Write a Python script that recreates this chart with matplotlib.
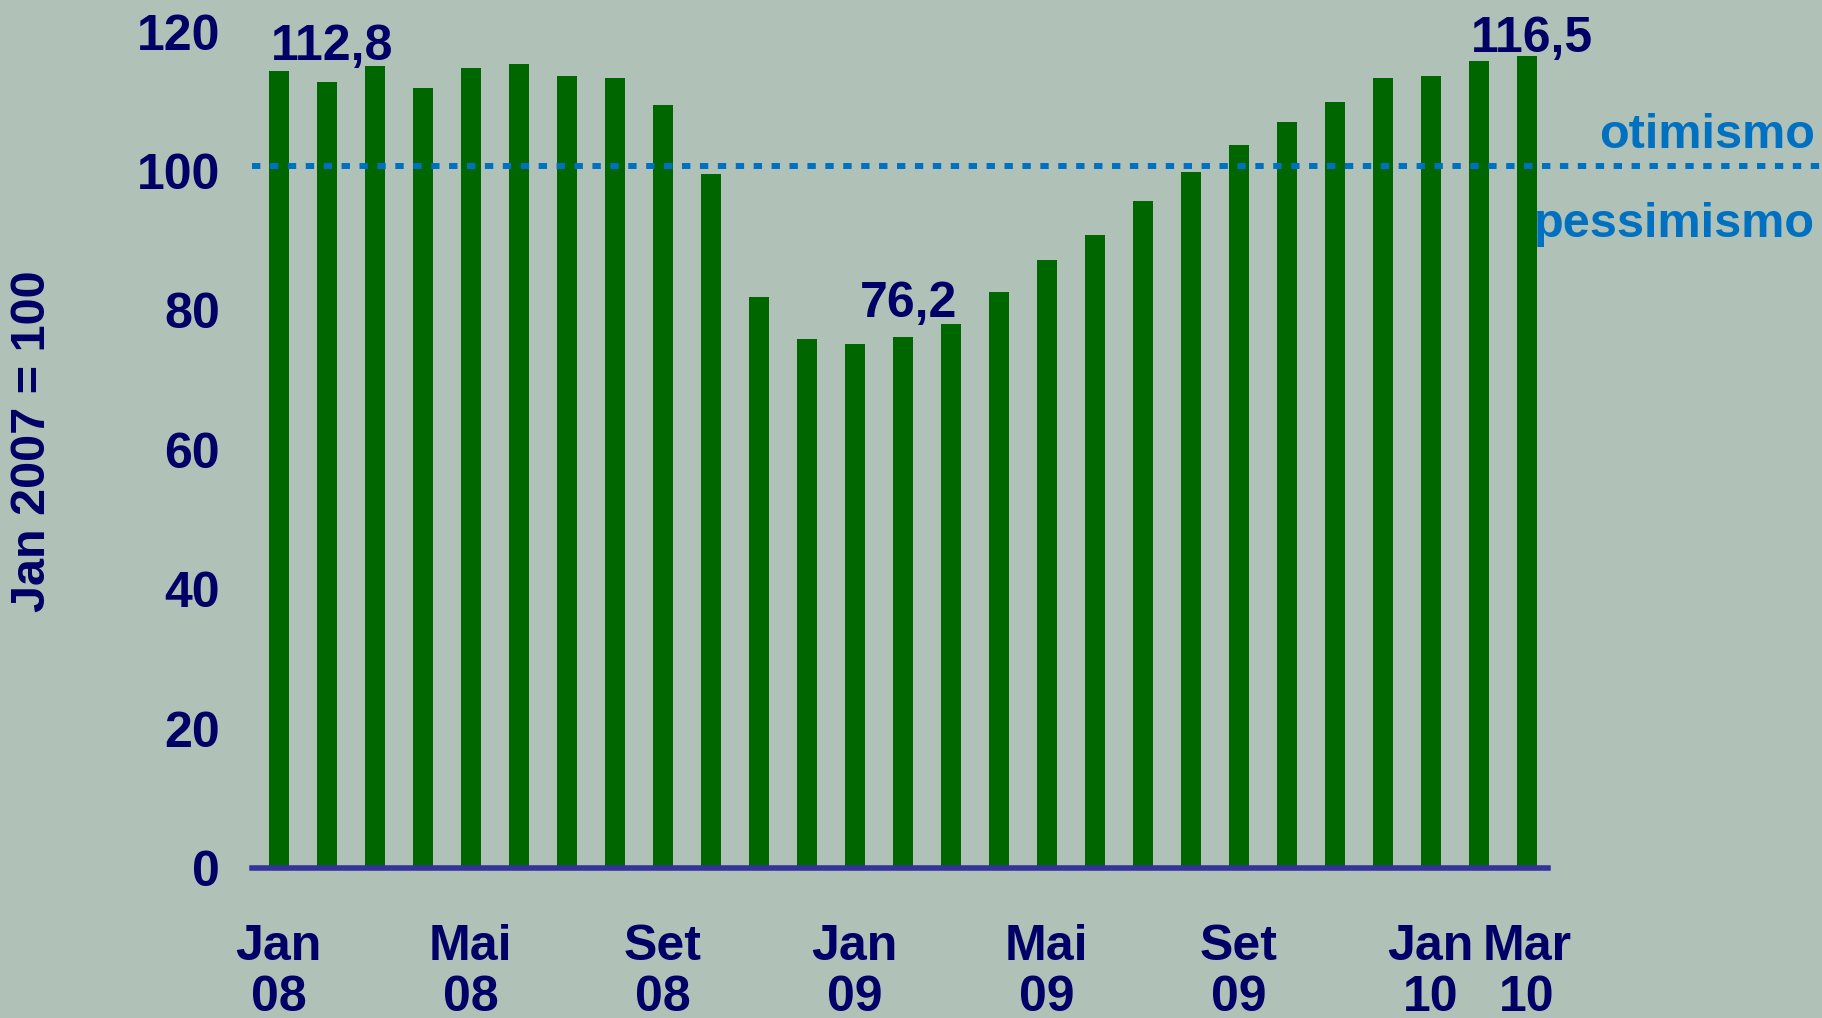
import numpy as np
import matplotlib
matplotlib.use('Agg')
import matplotlib.pyplot as plt

# Índice de confiança (Jan 2007 = 100), Jan 08 .. Mar 10
meses = ['Jan 08', 'Fev 08', 'Mar 08', 'Abr 08', 'Mai 08', 'Jun 08', 'Jul 08', 'Ago 08',
         'Set 08', 'Out 08', 'Nov 08', 'Dez 08', 'Jan 09', 'Fev 09', 'Mar 09', 'Abr 09',
         'Mai 09', 'Jun 09', 'Jul 09', 'Ago 09', 'Set 09', 'Out 09', 'Nov 09', 'Dez 09',
         'Jan 10', 'Fev 10', 'Mar 10']
valores = [114.4, 112.8, 115.1, 111.9, 114.8, 115.4, 113.7, 113.3, 109.5, 99.6,
           81.9, 75.9, 75.2, 76.2, 78.0, 82.6, 87.2, 90.8, 95.7, 99.8,
           103.8, 107.0, 109.9, 113.3, 113.7, 115.8, 116.5]

# tick labels on the x axis
xtick_pos = [0, 4, 8, 12, 16, 20, 24, 26]
xtick_lab = ['Jan\n08', 'Mai\n08', 'Set\n08', 'Jan\n09', 'Mai\n09', 'Set\n09', 'Jan\n10', 'Mar\n10']

# highlighted values (index, text)
destaques = [(1, '112,8'), (13, '76,2'), (26, '116,5')]
# otimismo / pessimismo divide, as drawn in the original
neutro = 100.7

plt.rcParams['font.family'] = ['Liberation Sans', 'DejaVu Sans']
plt.rcParams['font.weight'] = 'bold'

navy = '#000066'
green = '#006600'
blue = '#0070c0'
bg = '#b0c2b8'

fig = plt.figure(figsize=(18.22, 10.18), dpi=100, facecolor=bg)
ax = fig.add_axes([0.1383, 0.1473, 0.7113, 0.8216])
ax.set_facecolor('none')

x = np.arange(len(valores))
ax.bar(x, valores, width=0.42, color=green, zorder=2)

ax.set_xlim(-0.56, 26.44)
ax.set_ylim(0, 120)

ax.set_yticks(np.arange(0, 121, 20))
ax.set_xticks(xtick_pos)
ax.set_xticklabels(xtick_lab, linespacing=1.15)
ax.tick_params(axis='y', length=0, pad=23, labelsize=36, labelcolor=navy)
ax.tick_params(axis='x', length=0, pad=40, labelsize=36, labelcolor=navy)
for lab in ax.get_xticklabels() + ax.get_yticklabels():
    lab.set_fontweight('bold')

for s in ('top', 'right', 'left'):
    ax.spines[s].set_visible(False)
ax.spines['bottom'].set_color('#333399')
ax.spines['bottom'].set_linewidth(4.0)
ax.spines['bottom'].set_zorder(3)

# neutral line, runs out to the right edge of the figure
ax.axhline(neutro, xmin=0, xmax=1.211, color=blue, lw=4.3,
           linestyle=(0, (1.4, 1.6)), dash_capstyle='butt', clip_on=False, zorder=3)
fig.text(1815 / 1822, 1 - 148 / 1018, 'otimismo', ha='right', va='baseline',
         fontsize=35, color=blue, fontweight='bold')
fig.text(1815 / 1822, 1 - 237 / 1018, 'pessimismo', ha='right', va='baseline',
         fontsize=35, color=blue, fontweight='bold')

offsets = [16, 14, 3]
for (i, txt), off in zip(destaques, offsets):
    ax.annotate(txt, (x[i], valores[i]), xytext=(4, off), textcoords='offset points',
                ha='center', va='baseline', fontsize=36, color=navy, fontweight='bold',
                annotation_clip=False)

fig.text(33 / 1822, 1 - 441 / 1018, 'Jan 2007 = 100', rotation=90, ha='center', va='center',
         fontsize=35, color=navy, fontweight='bold')

fig.savefig('out.png', dpi=100, facecolor=bg)
